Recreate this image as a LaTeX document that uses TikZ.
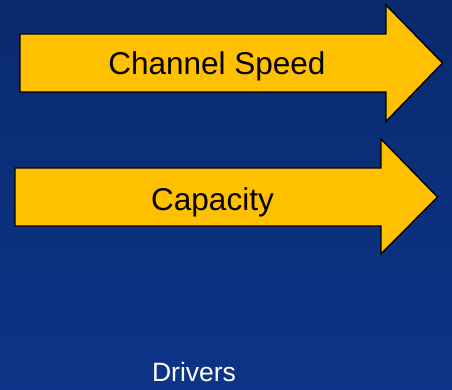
\documentclass[tikz,border=0pt]{standalone}
\usepackage{fontspec}
\setmainfont{Liberation Sans}
\definecolor{bgtop}{HTML}{0A2A6E}
\definecolor{bgbot}{HTML}{0C3488}
\definecolor{arrowfill}{HTML}{FFC000}
\begin{document}
\begin{tikzpicture}[x=1pt,y=-1pt,
  bigarrow/.style={fill=arrowfill,draw=black,line width=1.4pt,line join=miter},
  arrowlabel/.style={font=\fontsize{31.5}{36}\selectfont,text=black,anchor=base,inner sep=0pt},
  footlabel/.style={font=\fontsize{26.5}{30}\selectfont,text=white,anchor=base,inner sep=0pt}]
\shade[top color=bgtop,bottom color=bgbot] (0,0) rectangle (452,390);
\useasboundingbox (0,0) rectangle (452,390);
% arrow 1
\draw[bigarrow] (20,34) -- (386,34) -- (386,5) -- (442.5,63) -- (386,121.5) -- (386,92) -- (20,92) -- cycle;
% arrow 2
\draw[bigarrow] (15,168) -- (381,168) -- (381,139) -- (437.5,197) -- (381,254) -- (381,226) -- (15,226) -- cycle;
\node[arrowlabel] (speed) at (217,75) {Channel Speed};
\node[arrowlabel] (capacity) at (212.5,210) {Capacity};
\node[footlabel] (drivers) at (194,381) {Drivers};
\end{tikzpicture}
\end{document}
